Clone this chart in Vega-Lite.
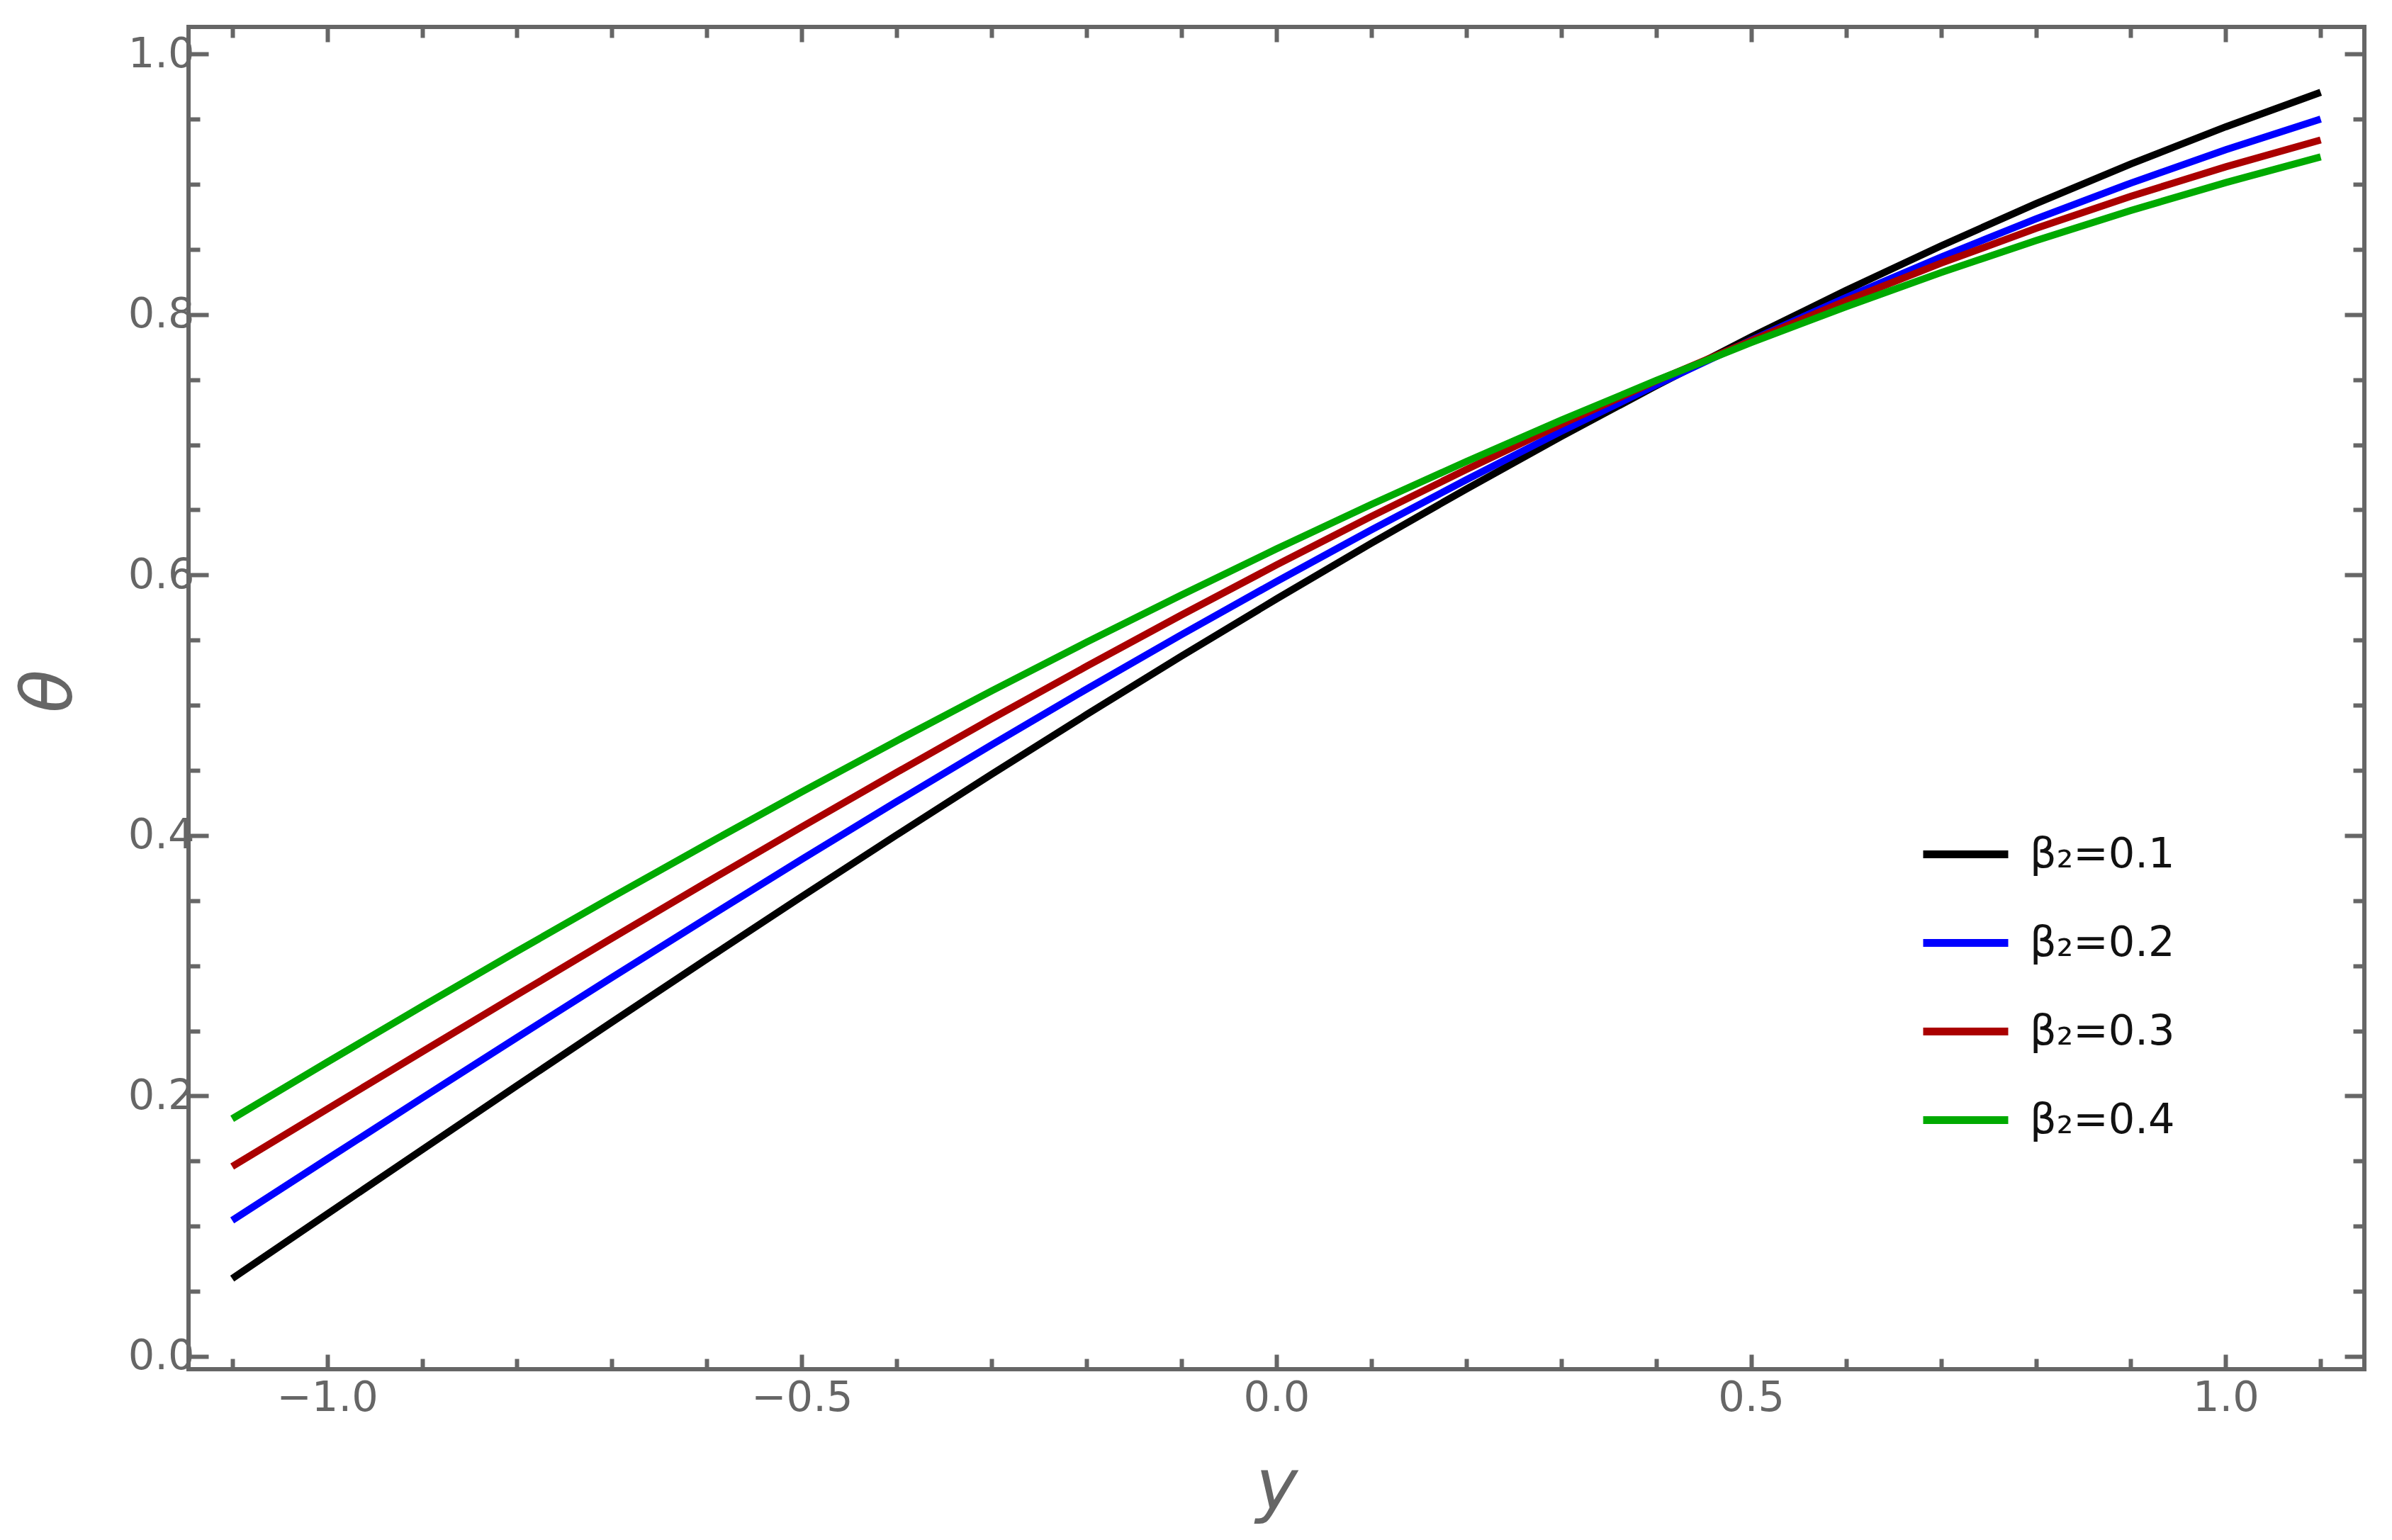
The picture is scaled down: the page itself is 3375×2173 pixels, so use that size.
{
  "$schema": "https://vega.github.io/schema/vega-lite/v6.json",
  "width": 3070,
  "height": 1894,
  "autosize": {"type": "none"},
  "padding": {"left": 266, "top": 38, "right": 39, "bottom": 241},
  "background": "white",
  "config": {
    "view": {"stroke": "#666666", "strokeWidth": 6},
    "axis": {
      "domain": false,
      "grid": false,
      "labelFlush": false,
      "tickColor": "#666666",
      "tickWidth": 6,
      "labelFont": "DejaVu Sans",
      "labelFontSize": 59,
      "labelColor": "#666666",
      "titleFont": "DejaVu Sans",
      "titleFontSize": 100,
      "titleFontStyle": "italic",
      "titleFontWeight": "normal",
      "titleColor": "#666666"
    }
  },
  "data": {
    "values": [
      {"y": -1.1, "theta": 0.0598, "s": "β₂=0.1"},
      {"y": -1.0, "theta": 0.1093, "s": "β₂=0.1"},
      {"y": -0.9, "theta": 0.1587, "s": "β₂=0.1"},
      {"y": -0.8, "theta": 0.2079, "s": "β₂=0.1"},
      {"y": -0.7, "theta": 0.2567, "s": "β₂=0.1"},
      {"y": -0.6, "theta": 0.3051, "s": "β₂=0.1"},
      {"y": -0.5, "theta": 0.3531, "s": "β₂=0.1"},
      {"y": -0.4, "theta": 0.4004, "s": "β₂=0.1"},
      {"y": -0.3, "theta": 0.4470, "s": "β₂=0.1"},
      {"y": -0.2, "theta": 0.4928, "s": "β₂=0.1"},
      {"y": -0.1, "theta": 0.5377, "s": "β₂=0.1"},
      {"y": 0.0, "theta": 0.5816, "s": "β₂=0.1"},
      {"y": 0.1, "theta": 0.6244, "s": "β₂=0.1"},
      {"y": 0.2, "theta": 0.6660, "s": "β₂=0.1"},
      {"y": 0.3, "theta": 0.7063, "s": "β₂=0.1"},
      {"y": 0.4, "theta": 0.7453, "s": "β₂=0.1"},
      {"y": 0.5, "theta": 0.7827, "s": "β₂=0.1"},
      {"y": 0.6, "theta": 0.8185, "s": "β₂=0.1"},
      {"y": 0.7, "theta": 0.8527, "s": "β₂=0.1"},
      {"y": 0.8, "theta": 0.8851, "s": "β₂=0.1"},
      {"y": 0.9, "theta": 0.9156, "s": "β₂=0.1"},
      {"y": 1.0, "theta": 0.9441, "s": "β₂=0.1"},
      {"y": 1.1, "theta": 0.9706, "s": "β₂=0.1"},
      {"y": -1.1, "theta": 0.1045, "s": "β₂=0.2"},
      {"y": -1.0, "theta": 0.1515, "s": "β₂=0.2"},
      {"y": -0.9, "theta": 0.1984, "s": "β₂=0.2"},
      {"y": -0.8, "theta": 0.2449, "s": "β₂=0.2"},
      {"y": -0.7, "theta": 0.2910, "s": "β₂=0.2"},
      {"y": -0.6, "theta": 0.3366, "s": "β₂=0.2"},
      {"y": -0.5, "theta": 0.3817, "s": "β₂=0.2"},
      {"y": -0.4, "theta": 0.4260, "s": "β₂=0.2"},
      {"y": -0.3, "theta": 0.4696, "s": "β₂=0.2"},
      {"y": -0.2, "theta": 0.5124, "s": "β₂=0.2"},
      {"y": -0.1, "theta": 0.5542, "s": "β₂=0.2"},
      {"y": 0.0, "theta": 0.5950, "s": "β₂=0.2"},
      {"y": 0.1, "theta": 0.6347, "s": "β₂=0.2"},
      {"y": 0.2, "theta": 0.6731, "s": "β₂=0.2"},
      {"y": 0.3, "theta": 0.7103, "s": "β₂=0.2"},
      {"y": 0.4, "theta": 0.7460, "s": "β₂=0.2"},
      {"y": 0.5, "theta": 0.7803, "s": "β₂=0.2"},
      {"y": 0.6, "theta": 0.8131, "s": "β₂=0.2"},
      {"y": 0.7, "theta": 0.8441, "s": "β₂=0.2"},
      {"y": 0.8, "theta": 0.8734, "s": "β₂=0.2"},
      {"y": 0.9, "theta": 0.9009, "s": "β₂=0.2"},
      {"y": 1.0, "theta": 0.9265, "s": "β₂=0.2"},
      {"y": 1.1, "theta": 0.9500, "s": "β₂=0.2"},
      {"y": -1.1, "theta": 0.1458, "s": "β₂=0.3"},
      {"y": -1.0, "theta": 0.1899, "s": "β₂=0.3"},
      {"y": -0.9, "theta": 0.2339, "s": "β₂=0.3"},
      {"y": -0.8, "theta": 0.2776, "s": "β₂=0.3"},
      {"y": -0.7, "theta": 0.3211, "s": "β₂=0.3"},
      {"y": -0.6, "theta": 0.3641, "s": "β₂=0.3"},
      {"y": -0.5, "theta": 0.4066, "s": "β₂=0.3"},
      {"y": -0.4, "theta": 0.4484, "s": "β₂=0.3"},
      {"y": -0.3, "theta": 0.4896, "s": "β₂=0.3"},
      {"y": -0.2, "theta": 0.5299, "s": "β₂=0.3"},
      {"y": -0.1, "theta": 0.5693, "s": "β₂=0.3"},
      {"y": 0.0, "theta": 0.6077, "s": "β₂=0.3"},
      {"y": 0.1, "theta": 0.6450, "s": "β₂=0.3"},
      {"y": 0.2, "theta": 0.6810, "s": "β₂=0.3"},
      {"y": 0.3, "theta": 0.7157, "s": "β₂=0.3"},
      {"y": 0.4, "theta": 0.7490, "s": "β₂=0.3"},
      {"y": 0.5, "theta": 0.7798, "s": "β₂=0.3"},
      {"y": 0.6, "theta": 0.8105, "s": "β₂=0.3"},
      {"y": 0.7, "theta": 0.8394, "s": "β₂=0.3"},
      {"y": 0.8, "theta": 0.8661, "s": "β₂=0.3"},
      {"y": 0.9, "theta": 0.8908, "s": "β₂=0.3"},
      {"y": 1.0, "theta": 0.9134, "s": "β₂=0.3"},
      {"y": 1.1, "theta": 0.9340, "s": "β₂=0.3"},
      {"y": -1.1, "theta": 0.1825, "s": "β₂=0.4"},
      {"y": -1.0, "theta": 0.2259, "s": "β₂=0.4"},
      {"y": -0.9, "theta": 0.2688, "s": "β₂=0.4"},
      {"y": -0.8, "theta": 0.3110, "s": "β₂=0.4"},
      {"y": -0.7, "theta": 0.3526, "s": "β₂=0.4"},
      {"y": -0.6, "theta": 0.3934, "s": "β₂=0.4"},
      {"y": -0.5, "theta": 0.4335, "s": "β₂=0.4"},
      {"y": -0.4, "theta": 0.4727, "s": "β₂=0.4"},
      {"y": -0.3, "theta": 0.5110, "s": "β₂=0.4"},
      {"y": -0.2, "theta": 0.5484, "s": "β₂=0.4"},
      {"y": -0.1, "theta": 0.5847, "s": "β₂=0.4"},
      {"y": 0.0, "theta": 0.6200, "s": "β₂=0.4"},
      {"y": 0.1, "theta": 0.6542, "s": "β₂=0.4"},
      {"y": 0.2, "theta": 0.6871, "s": "β₂=0.4"},
      {"y": 0.3, "theta": 0.7189, "s": "β₂=0.4"},
      {"y": 0.4, "theta": 0.7493, "s": "β₂=0.4"},
      {"y": 0.5, "theta": 0.7784, "s": "β₂=0.4"},
      {"y": 0.6, "theta": 0.8060, "s": "β₂=0.4"},
      {"y": 0.7, "theta": 0.8322, "s": "β₂=0.4"},
      {"y": 0.8, "theta": 0.8568, "s": "β₂=0.4"},
      {"y": 0.9, "theta": 0.8799, "s": "β₂=0.4"},
      {"y": 1.0, "theta": 0.9013, "s": "β₂=0.4"},
      {"y": 1.1, "theta": 0.9210, "s": "β₂=0.4"}
    ]
  },
  "layer": [
    {
      "mark": {"type": "line", "strokeWidth": 10, "clip": true},
      "encoding": {
        "x": {
          "field": "y", "type": "quantitative",
          "scale": {"domain": [-1.146, 1.146], "nice": false, "zero": false},
          "axis": {
            "orient": "bottom",
            "values": [-1, -0.5, 0, 0.5, 1],
            "format": ".1f",
            "tickSize": -21,
            "labelPadding": 32,
            "title": "y",
            "titleBaseline": "alphabetic",
            "titleY": 196
          }
        },
        "y": {
          "field": "theta", "type": "quantitative",
          "scale": {"domain": [-0.0098, 1.0208], "nice": false, "zero": false},
          "axis": {
            "orient": "left",
            "values": [0, 0.2, 0.4, 0.6, 0.8, 1.0],
            "format": ".1f",
            "tickSize": -28,
            "labelPadding": 20,
            "title": "θ",
            "titleAngle": 270,
            "titleBaseline": "alphabetic",
            "titleAlign": "center",
            "titleX": -166,
            "titleY": 937
          }
        },
        "color": {
          "field": "s", "type": "nominal",
          "scale": {
            "domain": ["β₂=0.1", "β₂=0.2", "β₂=0.3", "β₂=0.4"],
            "range": ["#000000", "#0000ff", "#aa0000", "#00aa00"]
          },
          "legend": {
            "orient": "none",
            "legendX": 2442,
            "legendY": 1102,
            "title": null,
            "padding": 0,
            "symbolType": "stroke",
            "symbolSize": 14400,
            "symbolStrokeWidth": 11,
            "rowPadding": 29,
            "labelOffset": 25,
            "labelLimit": 0,
            "labelFont": "DejaVu Sans",
            "labelFontSize": 59,
            "labelColor": "#111111"
          }
        }
      }
    },
    {
      "mark": {"type": "point", "opacity": 0},
      "encoding": {
        "x": {
          "field": "y", "type": "quantitative",
          "scale": {"domain": [-1.146, 1.146], "nice": false, "zero": false},
          "axis": {
            "orient": "bottom",
            "values": [-1.1, -0.9, -0.8, -0.7, -0.6, -0.4, -0.3, -0.2, -0.1, 0.1, 0.2, 0.3, 0.4, 0.6, 0.7, 0.8, 0.9, 1.1],
            "tickSize": -15, "labels": false, "title": null
          }
        },
        "y": {
          "field": "theta", "type": "quantitative",
          "scale": {"domain": [-0.0098, 1.0208], "nice": false, "zero": false},
          "axis": {
            "orient": "left",
            "values": [0.05, 0.1, 0.15, 0.25, 0.3, 0.35, 0.45, 0.5, 0.55, 0.65, 0.7, 0.75, 0.85, 0.9, 0.95],
            "tickSize": -16, "labels": false, "title": null
          }
        }
      }
    },
    {
      "mark": {"type": "point", "opacity": 0},
      "encoding": {
        "x": {
          "field": "y", "type": "quantitative",
          "scale": {"domain": [-1.146, 1.146], "nice": false, "zero": false},
          "axis": {
            "orient": "top",
            "values": [-1, -0.5, 0, 0.5, 1],
            "tickSize": -21, "labels": false, "title": null
          }
        },
        "y": {
          "field": "theta", "type": "quantitative",
          "scale": {"domain": [-0.0098, 1.0208], "nice": false, "zero": false},
          "axis": {
            "orient": "right",
            "values": [0, 0.2, 0.4, 0.6, 0.8, 1.0],
            "tickSize": -28, "labels": false, "title": null
          }
        }
      }
    },
    {
      "mark": {"type": "point", "opacity": 0},
      "encoding": {
        "x": {
          "field": "y", "type": "quantitative",
          "scale": {"domain": [-1.146, 1.146], "nice": false, "zero": false},
          "axis": {
            "orient": "top",
            "values": [-1.1, -0.9, -0.8, -0.7, -0.6, -0.4, -0.3, -0.2, -0.1, 0.1, 0.2, 0.3, 0.4, 0.6, 0.7, 0.8, 0.9, 1.1],
            "tickSize": -15, "labels": false, "title": null
          }
        },
        "y": {
          "field": "theta", "type": "quantitative",
          "scale": {"domain": [-0.0098, 1.0208], "nice": false, "zero": false},
          "axis": {
            "orient": "right",
            "values": [0.05, 0.1, 0.15, 0.25, 0.3, 0.35, 0.45, 0.5, 0.55, 0.65, 0.7, 0.75, 0.85, 0.9, 0.95],
            "tickSize": -16, "labels": false, "title": null
          }
        }
      }
    }
  ],
  "resolve": {"axis": {"x": "independent", "y": "independent"}}
}
